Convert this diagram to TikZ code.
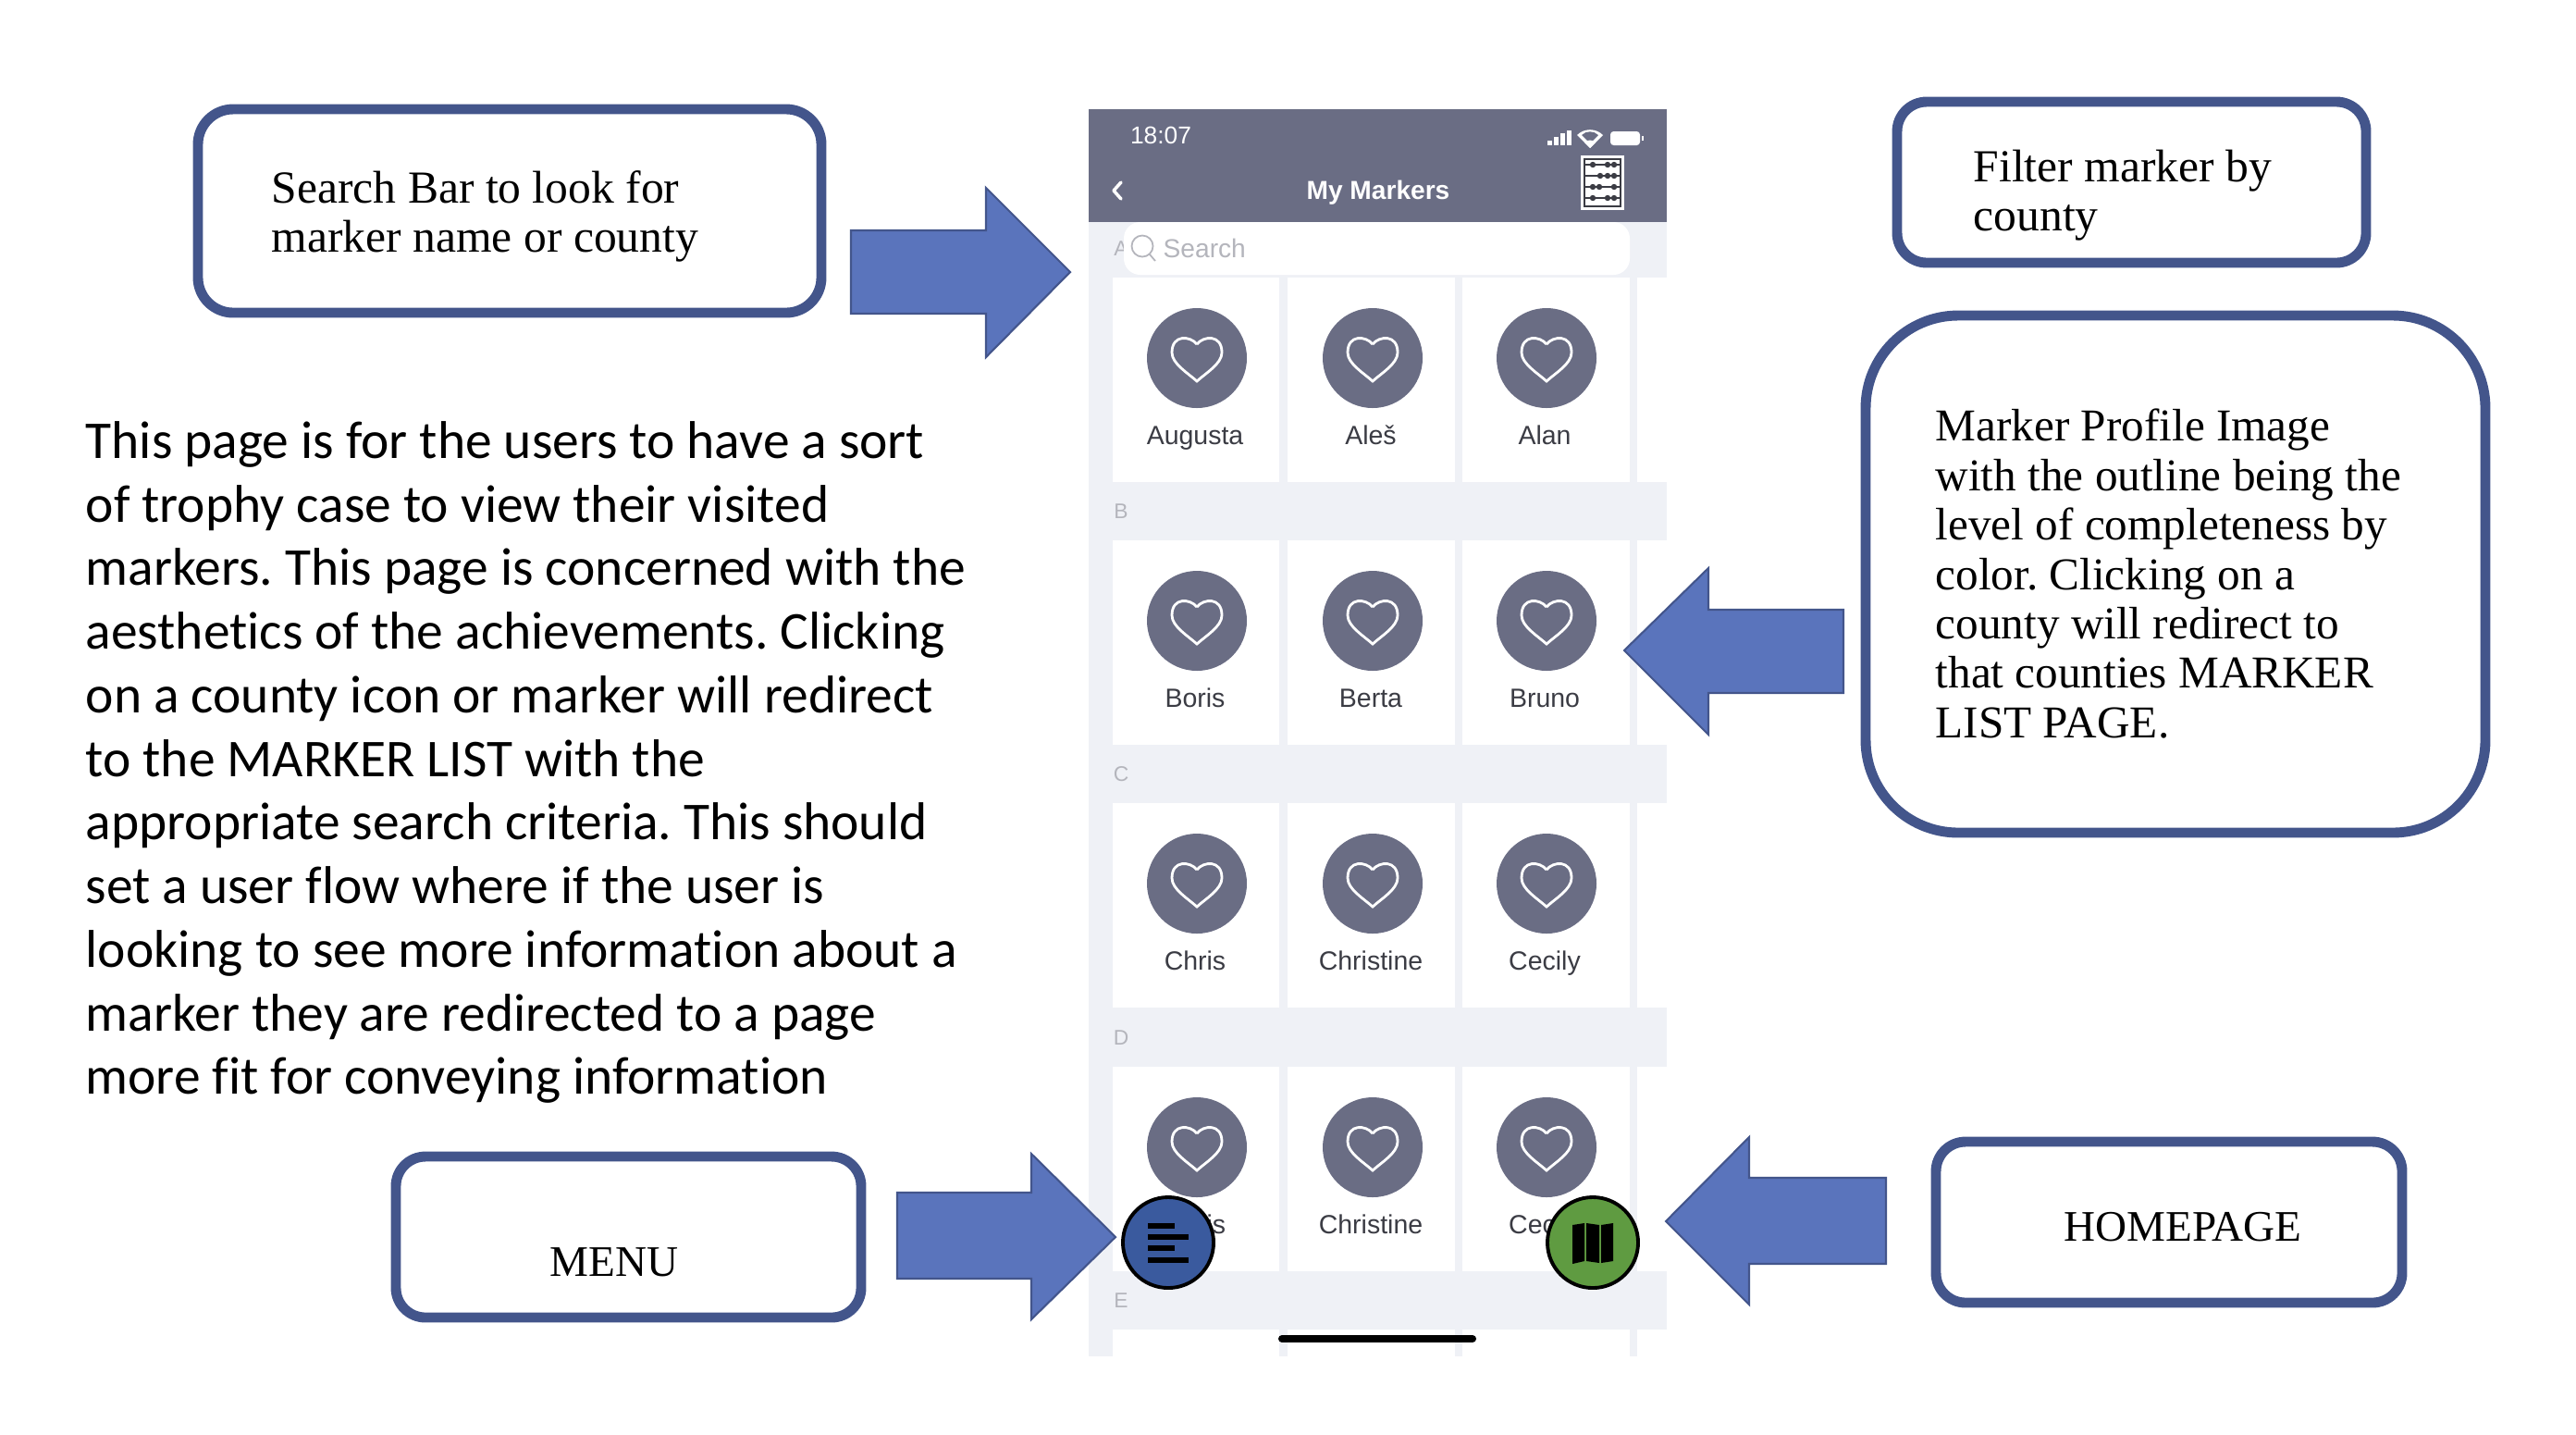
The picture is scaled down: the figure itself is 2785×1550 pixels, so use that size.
\documentclass[tikz,border=0pt]{standalone}
\usepackage{fontspec}
\setmainfont{Liberation Serif}
\newfontfamily\bodyfont[Ligatures=NoCommon]{Carlito}
\newfontfamily\appfont{Liberation Sans}
\definecolor{boxblue}{HTML}{43558B}
\definecolor{arrowblue}{HTML}{5A74BC}
\definecolor{appgrey}{HTML}{6A6D84}
\definecolor{pagegrey}{HTML}{EFF1F6}
\definecolor{lettergrey}{HTML}{B4B5BC}
\definecolor{namegrey}{HTML}{3B3C44}
\definecolor{menublue}{HTML}{3A5A9E}
\definecolor{homegreen}{HTML}{5F9B41}
\tikzset{
	calloutbox/.style={draw=boxblue,line width=3.1pt},
	callouttext/.style={anchor=west,inner sep=0pt,align=left,font=\fontsize{14.1}{14.9}\selectfont},
	blockarrow/.style={draw=boxblue,line width=.6pt,fill=arrowblue},
	tile/.style={fill=white},
	markername/.style={anchor=base,inner sep=0pt,text=namegrey,font=\appfont\fontsize{8.1}{10}\selectfont},
	sectionletter/.style={inner sep=0pt,text=lettergrey,font=\appfont\fontsize{6.5}{8}\selectfont},
	roundbutton/.style={draw=black,line width=1.1pt,circle,minimum size=98pt*.2845,inner sep=0pt},
	heartline/.pic={\draw[white,line width=.8pt] (0,-15) .. controls (-7,-24) and (-27,-26) .. (-27,-6) .. controls (-27,6) and (-10,16) .. (0,25) .. controls (10,16) and (27,6) .. (27,-6) .. controls (27,-26) and (7,-24) .. (0,-15);},
}
\begin{document}
\frenchspacing
\begin{tikzpicture}[x=.01cm,y=-.01cm]
	\useasboundingbox (0,0) rectangle (2785,1550);
	\begin{scope}
		\clip (1177,118) rectangle (1802,1466);
		\fill[pagegrey] (1177,118) rectangle (1802,1466);
		\foreach \rowtop/\rowname/\namea/\nameb/\namec in {300/A/Augusta/Aleš/Alan,584/B/Boris/Berta/Bruno,868/C/Chris/Christine/Cecily,1153/D/Chris/Christine/Cecily}{
			\fill[tile] (1203,\rowtop) rectangle +(180,221);
			\fill[tile] (1392,\rowtop) rectangle +(181,221);
			\fill[tile] (1581,\rowtop) rectangle +(181,221);
			\fill[tile] (1770,\rowtop) rectangle +(40,221);
			\foreach \colx/\colname/\markname in {1294/1/\namea,1484/2/\nameb,1672/3/\namec}{
				\fill[appgrey] (\colx,\rowtop+87) circle (54);
				\pic at (\colx,\rowtop+87) {heartline};
				\node[markername] (name\rowname\colname) at (\colx-2,\rowtop+180) {\markname};
			}
			\node[sectionletter] (letter\rowname) at (1212,\rowtop-31) {\rowname};
		}
		\foreach \colx/\colw in {1203/180,1392/181,1581/181,1770/40}{
			\fill[tile] (\colx,1437) rectangle +(\colw,40);
		}
		\node[sectionletter] (letterE) at (1212,1406) {E};
		\fill[appgrey] (1177,118) rectangle (1802,240);
		\fill[white,rounded corners=5pt] (1215,240) rectangle (1762,297);
	\end{scope}
	\node[inner sep=0pt,text=white,font=\appfont\fontsize{7.5}{9}\selectfont] (clock) at (1255,146) {18:07};
	\node[inner sep=0pt,text=white,font=\appfont\bfseries\fontsize{8}{10}\selectfont] (screentitle) at (1490,208) {My Markers};
	\draw[white,line width=1pt,line cap=round,line join=round] (1212,197) -- (1204,206) -- (1212,215);
	\foreach \barx/\bartop in {1673/152,1680/148,1687/144,1694/141}{
		\fill[white] (\barx,157) rectangle (\barx+5,\bartop);
	}
	\fill[white] (1719,160) -- (1705,146) arc (225:315:19.8) -- cycle;
	\fill[appgrey] (1719,155) -- (1710,146) arc (225:315:12.7) -- cycle;
	\fill[white] (1719,160) -- (1713,154) arc (225:315:8.5) -- cycle;
	\fill[white,rounded corners=1pt] (1741,142) rectangle (1773,157);
	\fill[white] (1775,147) rectangle (1777,152);
	\fill[white] (1709,168) rectangle (1756,227);
	\draw[namegrey,line width=.4pt] (1713,172) rectangle (1752,223);
	\foreach \rody/\beada/\beadb/\beadc in {178/1722/1738/1745,190/1730/1738/1745,202/1722/1729/1745,214/1722/1738/1745}{
		\draw[namegrey,line width=.6pt] (1713,\rody) -- (1752,\rody);
		\fill[namegrey] (\beada,\rody) circle (3.2) (\beadb,\rody) circle (3.2) (\beadc,\rody) circle (3.2);
	}
	\draw[lettergrey,line width=.5pt] (1235,266) circle (11.5) (1243,275) -- (1249,282);
	\node[anchor=west,inner sep=0pt,text=lettergrey,font=\appfont\fontsize{8}{10}\selectfont] (searchhint) at (1257,268) {Search};
	\draw[black,line width=8pt*.2845,line cap=round] (1386,1447) -- (1592,1447);
	\node[roundbutton,fill=menublue] (menubutton) at (1263,1343) {};
	\foreach \bary/\barend in {1325/1270,1337/1285,1349/1270,1362/1285}{
		\fill[black] (1241,\bary-3) rectangle (\barend,\bary+3);
	}
	\node[roundbutton,fill=homegreen] (homebutton) at (1722,1343) {};
	\fill[black] (1700,1324) -- (1713,1322) -- (1713,1363) -- (1700,1366) -- cycle;
	\fill[black] (1715,1322) -- (1729,1324) -- (1729,1365) -- (1715,1363) -- cycle;
	\fill[black] (1731,1324) -- (1744,1322) -- (1744,1363) -- (1731,1365) -- cycle;
	\draw[calloutbox,rounded corners=38pt*.2845] (214,118) rectangle (888,338);
	\node[callouttext] (searchtext) at (293,234) {Search Bar to look for\\marker name or county};
	\draw[calloutbox,rounded corners=32pt*.2845] (2051,110) rectangle (2558,284);
	\node[callouttext] (filtertext) at (2133,211) {Filter marker by\\county};
	\draw[calloutbox,rounded corners=100pt*.2845] (2017,341) rectangle (2687,900);
	\node[callouttext,font=\fontsize{14}{15.2}\selectfont] (profiletext) at (2092,620) {Marker Profile Image\\with the outline being the\\level of completeness by\\color. Clicking on a\\county will redirect to\\that counties MARKER\\LIST PAGE.};
	\draw[calloutbox,rounded corners=32pt*.2845] (428,1250) rectangle (931,1424);
	\node[callouttext,anchor=center,font=\fontsize{13.4}{14.9}\selectfont] (menutext) at (664,1364) {MENU};
	\draw[calloutbox,rounded corners=32pt*.2845] (2093,1234) rectangle (2597,1408);
	\node[callouttext,anchor=center,font=\fontsize{13.4}{14.9}\selectfont] (hometext) at (2360,1326) {HOMEPAGE};
	\draw[blockarrow] (920,249) -- (1066,249) -- (1066,203) -- (1157,294) -- (1066,386) -- (1066,339) -- (920,339) -- cycle;
	\draw[blockarrow] (1993,659) -- (1847,659) -- (1847,614) -- (1756,703) -- (1847,794) -- (1847,749) -- (1993,749) -- cycle;
	\draw[blockarrow] (970,1289) -- (1115,1289) -- (1115,1247) -- (1206,1337) -- (1115,1426) -- (1115,1382) -- (970,1382) -- cycle;
	\draw[blockarrow] (2039,1273) -- (1891,1273) -- (1891,1229) -- (1801,1320) -- (1891,1410) -- (1891,1366) -- (2039,1366) -- cycle;
	\node[anchor=west,inner sep=0pt,align=left,font=\bodyfont\fontsize{16.35}{19.55}\selectfont] (pagetext) at (92,824) {This page is for the users to have a sort\\of trophy case to view their visited\\markers. This page is concerned with the\\aesthetics of the achievements. Clicking\\on a county icon or marker will redirect\\to the MARKER LIST with the\\appropriate search criteria. This should\\set a user flow where if the user is\\looking to see more information about a\\marker they are redirected to a page\\more fit for conveying information};
\end{tikzpicture}
\end{document}
